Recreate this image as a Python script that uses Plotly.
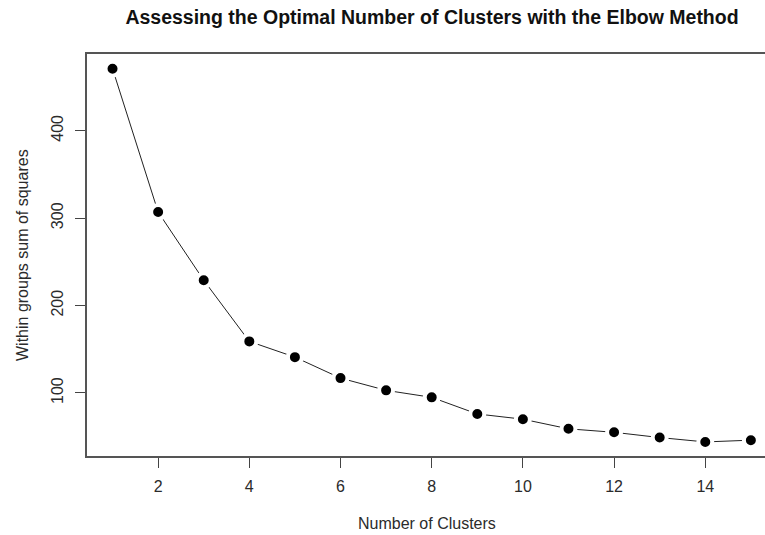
import plotly.graph_objects as go

clusters = list(range(1, 16))
wss = [471, 307, 229, 159, 141, 117, 103, 95, 76, 70, 59, 55, 49, 44, 46]
x_ticks = [2, 4, 6, 8, 10, 12, 14]
y_ticks = [100, 200, 300, 400]

title_text = "Assessing the Optimal Number of Clusters with the Elbow Method"
x_title = "Number of Clusters"
y_title = "Within groups sum of squares"

FONT = "Liberation Sans, Arial, sans-serif"
TXT = "#2b2b2b"

fig = go.Figure()
fig.add_trace(go.Scatter(
    x=clusters, y=wss, mode="lines+markers",
    line=dict(color="#222222", width=1),
    marker=dict(color="black", size=14, line=dict(color="white", width=4)),
    showlegend=False, hoverinfo="skip",
))

W, H = 765, 535
L, T, B = 87, 54, 79

fig.update_layout(
    width=W, height=H,
    margin=dict(l=L, r=0, t=T, b=B, pad=0),
    paper_bgcolor="white", plot_bgcolor="white",
    font=dict(family=FONT, color=TXT, size=16),
    title=dict(text="<b>" + title_text + "</b>", x=432 / W, xref="container", xanchor="center",
               y=1 - 17 / H, yref="container", yanchor="middle",
               font=dict(family=FONT, size=19.5, color="#111111")),
    xaxis=dict(range=[0.44, 15.31], tickvals=x_ticks, ticks="outside", ticklen=10,
               tickcolor="#444", tickwidth=1, showgrid=False, zeroline=False,
               showline=True, linecolor="#555", linewidth=1.5, mirror=True,
               tickfont=dict(size=16, color=TXT), ticklabelstandoff=5),
    yaxis=dict(range=[27.9, 487.8], tickvals=y_ticks, ticks="outside", ticklen=10,
               tickcolor="#444", tickwidth=1, showgrid=False, zeroline=False,
               showline=True, linecolor="#555", linewidth=1.5, mirror=False,
               tickangle=-90, tickfont=dict(size=16, color=TXT), ticklabelstandoff=6),
    annotations=[
        dict(text=x_title, xref="paper", yref="paper", x=(427 - L) / (W - L), y=0,
             xanchor="center", yanchor="middle", yshift=-67, showarrow=False,
             font=dict(size=16, color=TXT)),
        dict(text=y_title, xref="paper", yref="paper", x=0, y=0.5,
             xanchor="center", yanchor="middle", xshift=-(L - 22), textangle=-90,
             showarrow=False, font=dict(size=16, color=TXT)),
    ],
)

fig.write_html("out.html", config={"displayModeBar": False},
               post_script="document.body.style.margin='0';document.body.style.overflow='hidden';")
